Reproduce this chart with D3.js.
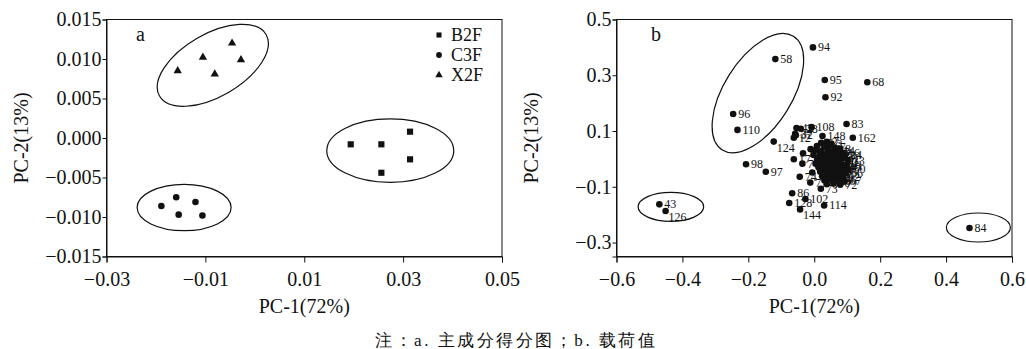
<!DOCTYPE html>
<html>
<head>
<meta charset="utf-8">
<script src="https://cdn.jsdelivr.net/npm/d3@7"></script>
<style>
  body { margin: 0; background: #fff; }
  svg { display: block; }
  text { font-family: "Liberation Serif", "Times New Roman", serif; fill: #111; }
</style>
</head>
<body>
<svg id="chart" width="1026" height="349"></svg>
<script>
// ---- datos panel a (puntuaciones) ----
const b2f = [[0.0194, -0.0008], [0.0256, -0.0008], [0.0314, 0.0008], [0.0314, -0.0027], [0.0256, -0.0044]];
const c3f = [[-0.0189, -0.0086], [-0.0159, -0.0075], [-0.0154, -0.0097], [-0.0120, -0.0081], [-0.0106, -0.0098]];
const x2f = [[-0.0156, 0.0085], [-0.0105, 0.0102], [-0.0081, 0.0081], [-0.0046, 0.0120], [-0.0028, 0.0099]];
const groupNames = ["B2F", "C3F", "X2F"];
const xTicksA = [-0.03, -0.01, 0.01, 0.03, 0.05];
const yTicksA = [0.015, 0.010, 0.005, 0.000, -0.005, -0.010, -0.015];

// ---- datos panel b (cargas) ----
const outliers = [
  ["94", -0.004, 0.400], ["58", -0.118, 0.358], ["95", 0.032, 0.283], ["68", 0.161, 0.275],
  ["92", 0.034, 0.221], ["96", -0.246, 0.161], ["110", -0.233, 0.104], ["83", 0.098, 0.125],
  ["162", 0.117, 0.076], ["124", -0.123, 0.062], ["98", -0.207, -0.019], ["97", -0.147, -0.046],
  ["43", -0.470, -0.163], ["126", -0.451, -0.187], ["84", 0.471, -0.248], ["86", -0.067, -0.123],
  ["128", -0.076, -0.158], ["102", -0.027, -0.144], ["144", -0.043, -0.181], ["114", 0.030, -0.167]
];
const nearCluster = [
  ["42", -0.054, 0.111], ["28", -0.041, 0.108], ["108", -0.008, 0.114], ["37", -0.058, 0.090],
  ["32", -0.056, 0.085], ["12", -0.062, 0.076], ["148", 0.025, 0.082], ["76", -0.011, 0.035],
  ["15", -0.034, 0.020], ["17", -0.062, -0.001], ["71", -0.036, -0.017], ["75", -0.006, -0.049],
  ["74", -0.044, -0.064], ["77", -0.012, -0.085], ["73", 0.020, -0.107]
];
const cluster = [
  ["1", 0.021, 0.058], ["2", 0.038, 0.061], ["3", 0.052, 0.055],
  ["4", 0.008, 0.046], ["5", 0.031, 0.043], ["6", 0.047, 0.048], ["7", 0.062, 0.041], ["8", 0.078, 0.037],
  ["9", 0.003, 0.031], ["10", 0.019, 0.027], ["11", 0.042, 0.033], ["13", 0.056, 0.026], ["14", 0.071, 0.029], ["16", 0.087, 0.022],
  ["18", -0.002, 0.014], ["19", 0.016, 0.011], ["20", 0.029, 0.017], ["21", 0.046, 0.012], ["22", 0.061, 0.016], ["23", 0.074, 0.009], ["24", 0.093, 0.013],
  ["25", 0.009, -0.002], ["26", 0.026, 0.003], ["27", 0.039, -0.004], ["29", 0.054, 0.001], ["30", 0.068, -0.003], ["31", 0.086, 0.002], ["33", 0.102, -0.006],
  ["34", 0.004, -0.017], ["35", 0.021, -0.013], ["36", 0.036, -0.019], ["38", 0.051, -0.014], ["39", 0.066, -0.018], ["40", 0.079, -0.011], ["41", 0.097, -0.021],
  ["44", 0.013, -0.031], ["45", 0.028, -0.028], ["46", 0.044, -0.034], ["47", 0.059, -0.027], ["48", 0.076, -0.033], ["49", 0.089, -0.029], ["50", 0.104, -0.036],
  ["51", 0.018, -0.046], ["52", 0.034, -0.043], ["53", 0.049, -0.049], ["54", 0.063, -0.044], ["55", 0.081, -0.047], ["56", 0.096, -0.051],
  ["57", 0.024, -0.062], ["59", 0.041, -0.058], ["60", 0.057, -0.064], ["61", 0.071, -0.059], ["62", 0.087, -0.066],
  ["63", 0.031, -0.077], ["64", 0.046, -0.073], ["65", 0.062, -0.079], ["66", 0.077, -0.074], ["67", 0.092, -0.081],
  ["69", 0.038, -0.091], ["70", 0.058, -0.088], ["72", 0.079, -0.092]
];
const xTicksB = [-0.6, -0.4, -0.2, 0.0, 0.2, 0.4, 0.6];
const yTicksB = [0.5, 0.3, 0.1, -0.1, -0.3];

// etiquetas que van abajo a la derecha del punto
const labelsBelow = ["124", "126", "144"];

// elipses (centro en datos, radios en px)
const ellipsesA = [
  { cx: -0.0085, cy: 0.0092, rx: 61.5, ry: 31.3, rot: -30 },
  { cx: -0.0143, cy: -0.0088, rx: 47, ry: 23.2, rot: 0 },
  { cx: 0.0274, cy: -0.0016, rx: 63.5, ry: 31.7, rot: 0 }
];
const ellipsesB = [
  { cx: -0.171, cy: 0.236, rx: 67, ry: 34, rot: -58 },
  { cx: -0.435, cy: -0.172, rx: 32.8, ry: 14.5, rot: 0 },
  { cx: 0.498, cy: -0.246, rx: 32, ry: 14.5, rot: 0 }
];

const svg = d3.select("#chart");
const plotTop = 19.5, plotBottom = 256.5;

// ---- helpers ----
function drawAxes(x, y, xTicks, yTicks, xFmt, yFmt) {
  const [x0, x1] = x.range();
  svg.append("g")
    .attr("transform", `translate(0,${plotBottom})`)
    .call(d3.axisBottom(x).tickValues(xTicks).tickFormat(d3.format(xFmt)).tickSizeOuter(0).tickSize(6).tickPadding(9))
    .call(g => g.selectAll("text").attr("font-size", 20).attr("font-family", null));
  svg.append("g")
    .attr("transform", `translate(${x0},0)`)
    .call(d3.axisLeft(y).tickValues(yTicks).tickFormat(d3.format(yFmt)).tickSizeOuter(0).tickSize(4).tickPadding(1))
    .call(g => g.selectAll("text").attr("font-size", 20).attr("font-family", null));
  svg.selectAll(".domain, .tick line").attr("stroke", "#111");
  // marco
  svg.append("rect")
    .attr("x", x0).attr("y", plotTop)
    .attr("width", x1 - x0).attr("height", plotBottom - plotTop)
    .attr("fill", "none").attr("stroke", "#111");
  // títulos de ejes
  svg.append("text")
    .attr("x", (x0 + x1) / 2).attr("y", 313)
    .attr("text-anchor", "middle").attr("font-size", 20)
    .text("PC-1(72%)");
  svg.append("text")
    .attr("transform", `translate(${x0 - 79},${(plotTop + plotBottom) / 2}) rotate(-90)`)
    .attr("text-anchor", "middle").attr("font-size", 20)
    .text("PC-2(13%)");
}

function drawEllipses(x, y, list) {
  svg.append("g").selectAll("ellipse").data(list).join("ellipse")
    .attr("transform", d => `translate(${x(d.cx)},${y(d.cy)}) rotate(${d.rot})`)
    .attr("rx", d => d.rx).attr("ry", d => d.ry)
    .attr("fill", "none").attr("stroke", "#111").attr("stroke-width", 1.2);
}

// ================= Panel a =================
const xA = d3.scaleLinear().domain([-0.03, 0.05]).range([106.5, 502]);
const yA = d3.scaleLinear().domain([-0.015, 0.015]).range([plotBottom, plotTop]);
drawAxes(xA, yA, xTicksA, yTicksA, ".2f", ".3f");
drawEllipses(xA, yA, ellipsesA);

const symbols = [d3.symbolSquare, d3.symbolCircle, d3.symbolTriangle];
const symSize = [38, 34, 30];
[b2f, c3f, x2f].forEach((series, i) => {
  svg.append("g").selectAll("path").data(series).join("path")
    .attr("transform", d => `translate(${xA(d[0])},${yA(d[1])})`)
    .attr("d", d3.symbol(symbols[i], symSize[i]))
    .attr("fill", "#111");
});

// leyenda
const legend = svg.append("g").attr("transform", "translate(439,35)");
groupNames.forEach((name, i) => {
  legend.append("path")
    .attr("transform", `translate(0,${i * 20})`)
    .attr("d", d3.symbol(symbols[i], [26, 26, 24][i]))
    .attr("fill", "#111");
  legend.append("text")
    .attr("x", 12).attr("y", i * 20 + 6)
    .attr("font-size", 18)
    .text(name);
});

svg.append("text").attr("x", 136).attr("y", 41).attr("font-size", 20).text("a");

// ================= Panel b =================
const xB = d3.scaleLinear().domain([-0.6, 0.6]).range([616.5, 1012]);
const yB = d3.scaleLinear().domain([-0.35, 0.5]).range([plotBottom, plotTop]);
drawAxes(xB, yB, xTicksB, yTicksB, ".1f", ".1f");
drawEllipses(xB, yB, ellipsesB);

const loadings = outliers.concat(nearCluster, cluster);
// primero las etiquetas, los puntos encima (el núcleo queda tapado como en el original)
const pts = svg.append("g");
pts.selectAll("text").data(loadings).join("text")
  .attr("x", d => xB(d[1]) + (labelsBelow.includes(d[0]) ? 3 : 5))
  .attr("y", d => yB(d[2]) + (labelsBelow.includes(d[0]) ? 10 : 4))
  .attr("font-size", 12)
  .text(d => d[0]);
pts.selectAll("circle").data(loadings).join("circle")
  .attr("cx", d => xB(d[1])).attr("cy", d => yB(d[2]))
  .attr("r", 3.3).attr("fill", "#111");

svg.append("text").attr("x", 651).attr("y", 41).attr("font-size", 20).text("b");

// nota al pie
svg.append("text")
  .attr("x", 375).attr("y", 346)
  .attr("font-family", "'Noto Sans CJK SC', sans-serif")
  .attr("font-size", 17)
  .attr("textLength", 280).attr("lengthAdjust", "spacing")
  .text("注：a. 主成分得分图；b. 载荷值");
</script>
</body>
</html>
